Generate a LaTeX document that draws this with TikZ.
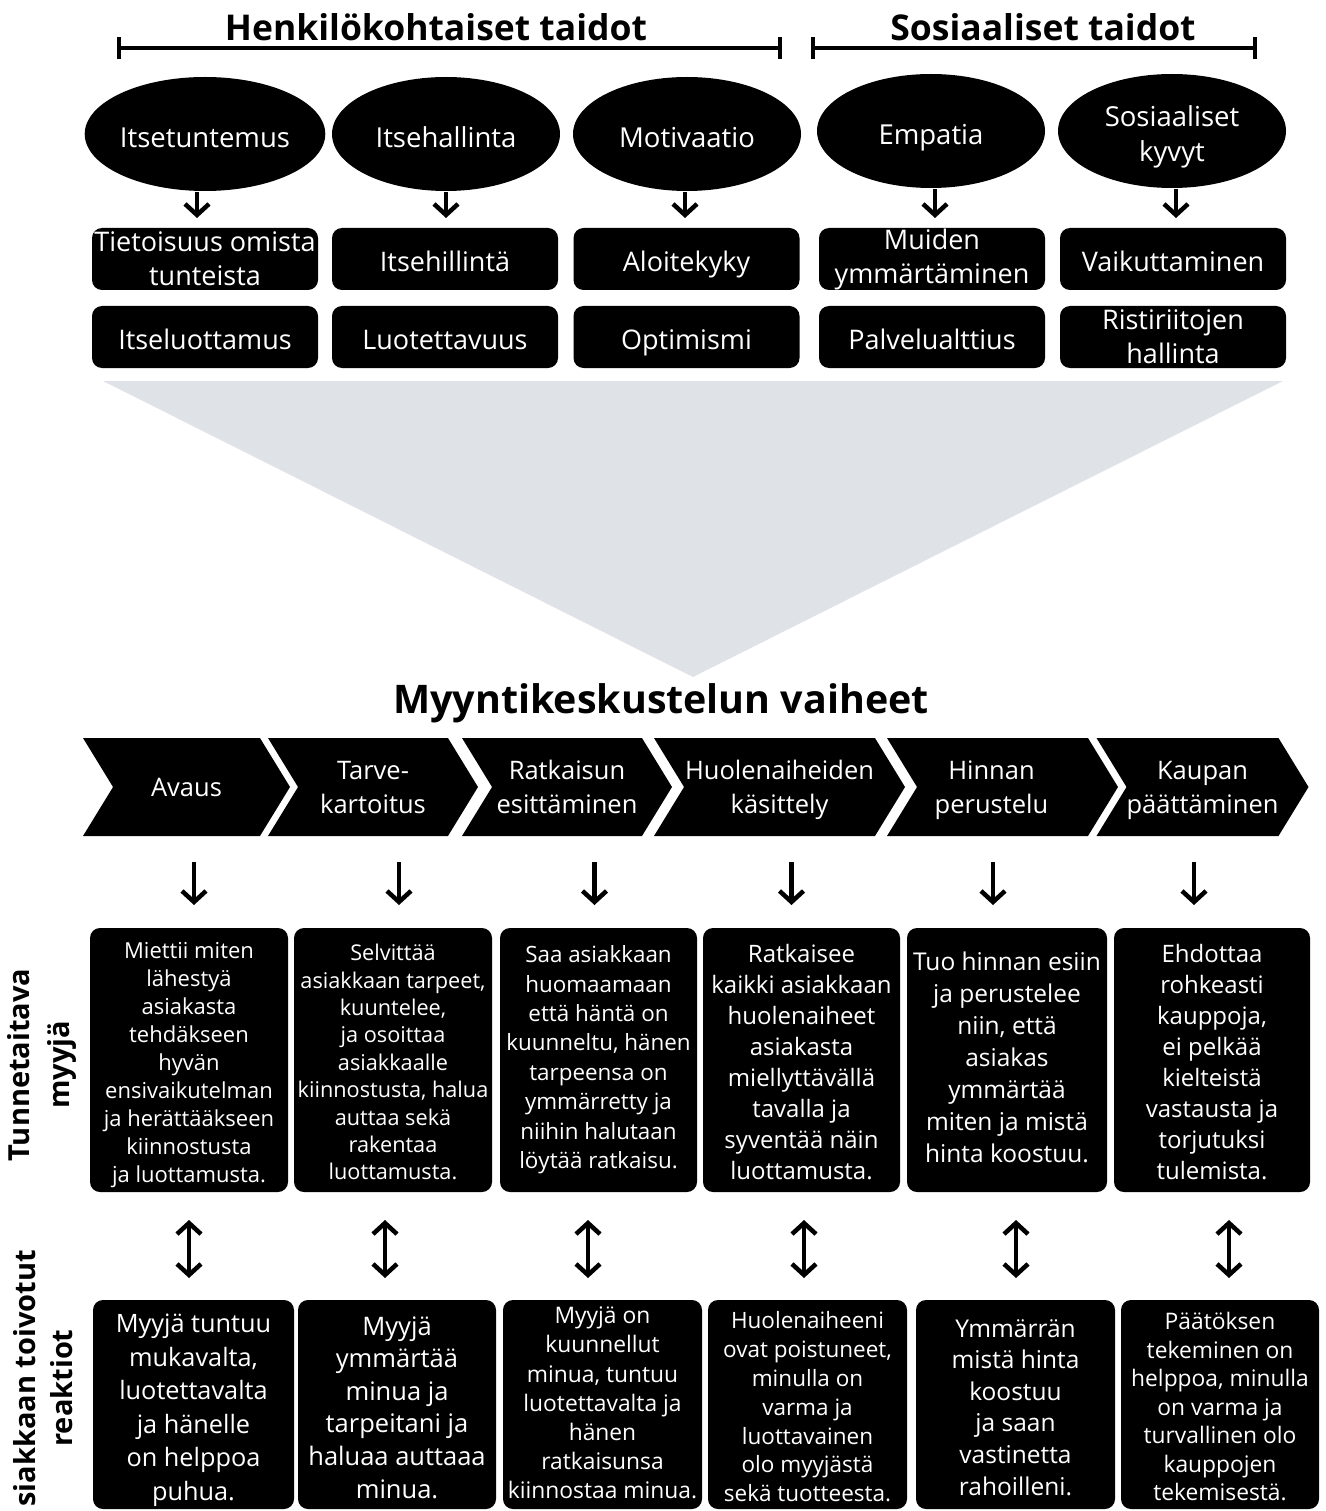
\documentclass[tikz,border=0pt]{standalone}
\usepackage{fontspec}
\setmainfont{Open Sans}
\usetikzlibrary{shapes.geometric,shapes.symbols,arrows.meta}
\definecolor{funnel}{HTML}{DFE3E7}
\newcommand\myStA{\rule{0pt}{1.25em}}
\newcommand\myStB{\rule{0pt}{1.0em}}
\newcommand\myStP{\rule{0pt}{1.05em}}
\newcommand\myStZ{\rule[-0.3em]{0pt}{0.3em}}
\newcommand\myStD{\rule[-0.4em]{0pt}{0.4em}}
\newcommand\myStY{\rule[-0.75em]{0pt}{0.75em}}
\tikzset{
  every node/.style={inner sep=0pt, outer sep=0pt},
  ttl/.style={font=\bfseries\fontsize{35.5}{42}\selectfont},
  ell/.style={ellipse, fill=black, text=white, minimum width=228pt, minimum height=114pt, align=center, font=\fontsize{27.5}{35}\selectfont},
  skill/.style={rounded corners=10pt, fill=black, text=white, minimum width=226pt, minimum height=62pt, align=center, font=\fontsize{27}{34}\selectfont},
  phase/.style={signal, signal from=west, signal to=east, signal pointer angle=117, fill=black, text=white, minimum height=98pt, align=center, font=\fontsize{25.5}{34}\selectfont},
  desc/.style={rounded corners=10pt, fill=black, text=white, align=center},
  arr/.style={line width=4.5pt, -{Straight Barb[length=11pt,width=24pt,line width=4.5pt]}},
  darr/.style={line width=4.5pt, {Straight Barb[length=11pt,width=24pt,line width=4.5pt]}-{Straight Barb[length=11pt,width=24pt,line width=4.5pt]}},
  brk/.style={line width=4pt, line cap=round, {Bar[width=22pt]}-{Bar[width=22pt]}},
  side/.style={rotate=90, align=center, font=\bfseries\fontsize{29}{40}\selectfont},
}
\begin{document}
\begin{tikzpicture}[x=1pt,y=-1pt]
\useasboundingbox (0,0) rectangle (1325,1511);
\fill[white] (0,0) rectangle (1325,1511);

% titles and brackets
\node[ttl] (th) at (436,27) {Henkilökohtaiset taidot};
\node[ttl] (ts) at (1043,27) {Sosiaaliset taidot};
\coordinate (h1) at (117,48); \coordinate (h2) at (782,48);
\coordinate (s1b) at (811,48); \coordinate (s2b) at (1257,48);
\draw[brk] (h1) -- (h2);
\draw[brk] (s1b) -- (s2b);

% ellipses
\node[ell] (e1) at (205,134) {\myStA Itsetuntemus\myStZ};
\node[ell] (e2) at (446,134) {\myStA Itsehallinta\myStZ};
\node[ell] (e3) at (687,134) {\myStA Motivaatio\myStZ};
\node[ell] (e4) at (931,131) {\myStA Empatia\myStZ};
\node[ell] (e5) at (1172,131) {\myStA Sosiaaliset\\kyvyt\myStZ};

% skill boxes
\node[skill] (a1) at (205,259) {Tietoisuus omista\\tunteista};
\node[skill] (a2) at (445,259) {\myStA Itsehillintä\myStZ};
\node[skill] (a3) at (686.5,259) {\myStA Aloitekyky\myStZ};
\node[skill] (a4) at (932,259) {Muiden\\ymmärtäminen};
\node[skill] (a5) at (1173,259) {\myStA Vaikuttaminen\myStZ};
\node[skill] (b1) at (205,337) {\myStA Itseluottamus\myStZ};
\node[skill] (b2) at (445,337) {\myStA Luotettavuus\myStZ};
\node[skill] (b3) at (686.5,337) {\myStA Optimismi\myStZ};
\node[skill] (b4) at (932,337) {\myStA Palvelualttius\myStZ};
\node[skill] (b5) at (1173,337) {Ristiriitojen\\hallinta};

\draw[arr] ([xshift=-8pt,yshift=-1pt]e1.south) -- ([xshift=-8pt,yshift=10pt]a1.north);
\draw[arr] ([yshift=-1pt]e2.south) -- ([yshift=10pt]a2.north -| e2.south);
\draw[arr] ([xshift=-2pt,yshift=-1pt]e3.south) -- ([xshift=-2pt,yshift=10pt]a3.north -| e3.south);
\draw[arr] ([xshift=4pt,yshift=-1pt]e4.south) -- ([xshift=4pt,yshift=10pt]a4.north -| e4.south);
\draw[arr] ([xshift=4pt,yshift=-1pt]e5.south) -- ([xshift=4pt,yshift=10pt]a5.north -| e5.south);

% funnel
\fill[funnel] (103,381) -- (1283,381) -- (693,677) -- cycle;

% phases
\node[ttl, font=\bfseries\fontsize{39.4}{46}\selectfont] (tm) at (661,703) {Myyntikeskustelun vaiheet};
\node[phase, minimum width=207pt] (c1) at (186.5,787) {\myStP Avaus\myStZ};
\node[phase, minimum width=210pt] (c2) at (373,787) {\myStP Tarve-\\kartoitus\myStZ};
\node[phase, minimum width=210pt] (c3) at (567,787) {\myStP Ratkaisun\\esittäminen\myStZ};
\node[phase, minimum width=251pt] (c4) at (779.5,787) {\myStP Huolenaiheiden\\käsittely\myStZ};
\node[phase, minimum width=231pt] (c5) at (1002.5,787) {\myStP Hinnan\hspace*{22pt}\\perustelu\hspace*{22pt}\myStZ};
\node[phase, minimum width=201pt] (c6) at (1202.5,787) {\myStP Kaupan\\päättäminen\myStZ};

% seller boxes
\node[desc, minimum width=198pt, minimum height=264pt, font=\fontsize{22}{28}\selectfont] (t1) at (189,1060)
  {\myStA Miettii miten\\lähestyä\\asiakasta\\tehdäkseen\\hyvän\\ensivaikutelman\\ja herättääkseen\\kiinnostusta\\ja luottamusta.\myStZ};
\node[desc, minimum width=198pt, minimum height=264pt, font=\fontsize{21.7}{27.4}\selectfont] (t2) at (393,1060)
  {\myStA Selvittää\\asiakkaan tarpeet,\\kuuntelee,\\ja osoittaa\\asiakkaalle\\kiinnostusta, halua\\auttaa sekä\\rakentaa\\luottamusta.\myStZ};
\node[desc, minimum width=197pt, minimum height=264pt, font=\fontsize{22.4}{29.4}\selectfont] (t3) at (598.5,1060)
  {\myStA Saa asiakkaan\\huomaamaan\\että häntä on\\kuunneltu, hänen\\tarpeensa on\\ymmärretty ja\\niihin halutaan\\löytää ratkaisu.\myStY};
\node[desc, minimum width=197pt, minimum height=264pt, font=\fontsize{24}{31}\selectfont] (t4) at (801.5,1060)
  {\myStA Ratkaisee\\kaikki asiakkaan\\huolenaiheet\\asiakasta\\miellyttävällä\\tavalla ja\\syventää näin\\luottamusta.\myStZ};
\node[desc, minimum width=200pt, minimum height=264pt, font=\fontsize{24.5}{32}\selectfont] (t5) at (1007,1060)
  {\myStA Tuo hinnan esiin\\ja perustelee\\niin, että\\asiakas\\ymmärtää\\miten ja mistä\\hinta koostuu.\myStY};
\node[desc, minimum width=196pt, minimum height=264pt, font=\fontsize{24}{31}\selectfont] (t6) at (1212,1060)
  {\myStA Ehdottaa\\rohkeasti\\kauppoja,\\ei pelkää\\kielteistä\\vastausta ja\\torjutuksi\\tulemista.\myStZ};

% customer boxes
\node[desc, minimum width=201pt, minimum height=209pt, font=\fontsize{25.3}{33.5}\selectfont] (r1) at (193.5,1404.5)
  {\myStA Myyjä tuntuu\\mukavalta,\\luotettavalta\\ja hänelle\\on helppoa\\puhua.\myStZ};
\node[desc, minimum width=198pt, minimum height=209pt, font=\fontsize{25.5}{32.6}\selectfont] (r2) at (397,1404.5)
  {\myStA Myyjä\\ymmärtää\\minua ja\\tarpeitani ja\\haluaa auttaaa\\minua.\myStZ};
\node[desc, minimum width=199pt, minimum height=209pt, font=\fontsize{22.8}{29.2}\selectfont] (r3) at (602.5,1404.5)
  {\myStB Myyjä on\\kuunnellut\\minua, tuntuu\\luotettavalta ja\\hänen\\ratkaisunsa\\kiinnostaa minua.\myStD};
\node[desc, minimum width=199pt, minimum height=209pt, font=\fontsize{22.5}{28.8}\selectfont] (r4) at (807.5,1404.5)
  {\myStA Huolenaiheeni\\ovat poistuneet,\\minulla on\\varma ja\\luottavainen\\olo myyjästä\\sekä tuotteesta.\myStZ};
\node[desc, minimum width=199pt, minimum height=209pt, font=\fontsize{24.5}{31.6}\selectfont] (r5) at (1015.5,1404.5)
  {\myStA Ymmärrän\\mistä hinta\\koostuu\\ja saan\\vastinetta\\rahoilleni.\myStZ};
\node[desc, minimum width=198pt, minimum height=209pt, font=\fontsize{22.8}{28.5}\selectfont] (r6) at (1220,1404.5)
  {\myStA Päätöksen\\tekeminen on\\helppoa, minulla\\on varma ja\\turvallinen olo\\kauppojen\\tekemisestä.\myStZ};

% down arrows phases -> seller boxes
\draw[arr] ([xshift=5pt]t1.north |- c1.south) ++(0,26) -- ([xshift=5pt,yshift=23pt]t1.north);
\draw[arr] ([xshift=6pt]t2.north |- c2.south) ++(0,26) -- ([xshift=6pt,yshift=23pt]t2.north);
\draw[arr] ([xshift=-4pt]t3.north |- c3.south) ++(0,26) -- ([xshift=-4pt,yshift=23pt]t3.north);
\draw[arr] ([xshift=-10pt]t4.north |- c4.south) ++(0,26) -- ([xshift=-10pt,yshift=23pt]t4.north);
\draw[arr] ([xshift=-14pt]t5.north |- c5.south) ++(0,26) -- ([xshift=-14pt,yshift=23pt]t5.north);
\draw[arr] ([xshift=-18pt]t6.north |- c6.south) ++(0,26) -- ([xshift=-18pt,yshift=23pt]t6.north);

% double arrows
\draw[darr] ([xshift=-4.5pt,yshift=-28pt]r1.north |- t1.south) -- ([xshift=-4.5pt,yshift=22pt]r1.north);
\draw[darr] ([xshift=-12pt,yshift=-28pt]r2.north |- t2.south) -- ([xshift=-12pt,yshift=22pt]r2.north);
\draw[darr] ([xshift=-14.5pt,yshift=-28pt]r3.north |- t3.south) -- ([xshift=-14.5pt,yshift=22pt]r3.north);
\draw[darr] ([xshift=-3.5pt,yshift=-28pt]r4.north |- t4.south) -- ([xshift=-3.5pt,yshift=22pt]r4.north);
\draw[darr] ([xshift=0.5pt,yshift=-28pt]r5.north |- t5.south) -- ([xshift=0.5pt,yshift=22pt]r5.north);
\draw[darr] ([xshift=9pt,yshift=-28pt]r6.north |- t6.south) -- ([xshift=9pt,yshift=22pt]r6.north);

% side labels
\node[side] (l1) at (42,1065) {Tunnetaitava\\myyjä};
\node[side, anchor=east] (l2) at (25,1250) {siakkaan toivotut};
\node[side] (l3) at (62,1388) {reaktiot};
\end{tikzpicture}
\end{document}
